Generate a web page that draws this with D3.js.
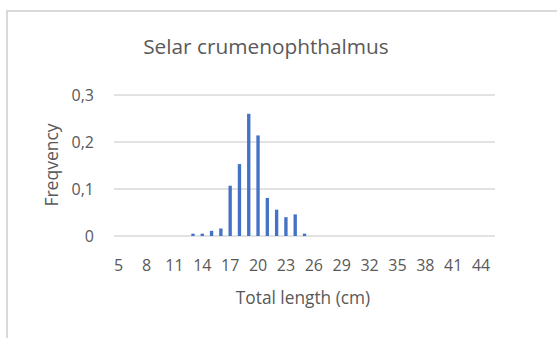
<!DOCTYPE html>
<html>
<head>
<meta charset="utf-8">
<script src="https://cdn.jsdelivr.net/npm/d3@7"></script>
<style>
  html, body { margin: 0; padding: 0; background: #fff; }
  svg { display: block; font-family: "Open Sans", "Noto Sans", sans-serif; }
</style>
</head>
<body>
<svg id="chart" width="557" height="338"></svg>
<script>
// Length classes (cm) and the relative frequency of each class
const lengths = d3.range(5, 46);
const freqLengths = [13, 14, 15, 16, 17, 18, 19, 20, 21, 22, 23, 24, 25];
const freqValues  = [0.005, 0.005, 0.011, 0.016, 0.107, 0.153, 0.26, 0.214, 0.081, 0.056, 0.040, 0.046, 0.005];
const yTicks = [0, 0.1, 0.2, 0.3];
const yTickLabels = ["0", "0,1", "0,2", "0,3"];
const xTickLabels = d3.range(5, 46, 3);

const chartTitle = "Selar crumenophthalmus";
const xTitle = "Total length (cm)";
const yTitle = "Freqvency";

const data = lengths.map(l => {
  const i = freqLengths.indexOf(l);
  return { length: l, value: i >= 0 ? freqValues[i] : 0 };
});

const svg = d3.select("#chart");
const textColor = "#595959";
const gridColor = "#d9d9d9";

// chart area frame
svg.append("path")
  .attr("d", "M7,338 V11 H557")
  .attr("fill", "none")
  .attr("stroke", gridColor)
  .attr("stroke-width", 2);

const plot = { left: 114, right: 495, top: 95, bottom: 236 };

const x = d3.scaleBand()
  .domain(lengths)
  .range([plot.left, plot.right])
  .paddingInner(0.64)
  .paddingOuter(0.32);

const y = d3.scaleLinear()
  .domain([0, 0.3])
  .range([plot.bottom, plot.top]);

// horizontal gridlines
svg.append("g")
  .selectAll("line")
  .data(yTicks)
  .join("line")
  .attr("x1", plot.left)
  .attr("x2", plot.right)
  .attr("y1", d => y(d))
  .attr("y2", d => y(d))
  .attr("stroke", gridColor)
  .attr("stroke-width", 1.5);

// y tick labels
svg.append("g")
  .selectAll("text")
  .data(yTicks)
  .join("text")
  .attr("x", 94)
  .attr("y", d => y(d))
  .attr("dy", "0.35em")
  .attr("text-anchor", "end")
  .attr("fill", textColor)
  .attr("font-size", 16)
  .text((d, i) => yTickLabels[i]);

// bars
svg.append("g")
  .selectAll("rect")
  .data(data.filter(d => d.value > 0))
  .join("rect")
  .attr("x", d => x(d.length))
  .attr("width", x.bandwidth())
  .attr("y", d => y(d.value))
  .attr("height", d => y(0) - y(d.value))
  .attr("fill", "#4472c4");

// x tick labels (every third class)
svg.append("g")
  .selectAll("text")
  .data(xTickLabels)
  .join("text")
  .attr("x", d => x(d) + x.bandwidth() / 2)
  .attr("y", 265)
  .attr("dy", "0.35em")
  .attr("text-anchor", "middle")
  .attr("fill", textColor)
  .attr("font-size", 16)
  .text(d => d);

// titles
svg.append("text")
  .attr("x", 266)
  .attr("y", 47)
  .attr("dy", "0.35em")
  .attr("text-anchor", "middle")
  .attr("fill", textColor)
  .attr("font-size", 20.8)
  .text(chartTitle);

svg.append("text")
  .attr("x", 303)
  .attr("y", 298)
  .attr("dy", "0.35em")
  .attr("text-anchor", "middle")
  .attr("fill", textColor)
  .attr("font-size", 17.3)
  .text(xTitle);

svg.append("text")
  .attr("transform", "translate(52,165) rotate(-90)")
  .attr("dy", "0.35em")
  .attr("text-anchor", "middle")
  .attr("fill", textColor)
  .attr("font-size", 17.5)
  .text(yTitle);
</script>
</body>
</html>
